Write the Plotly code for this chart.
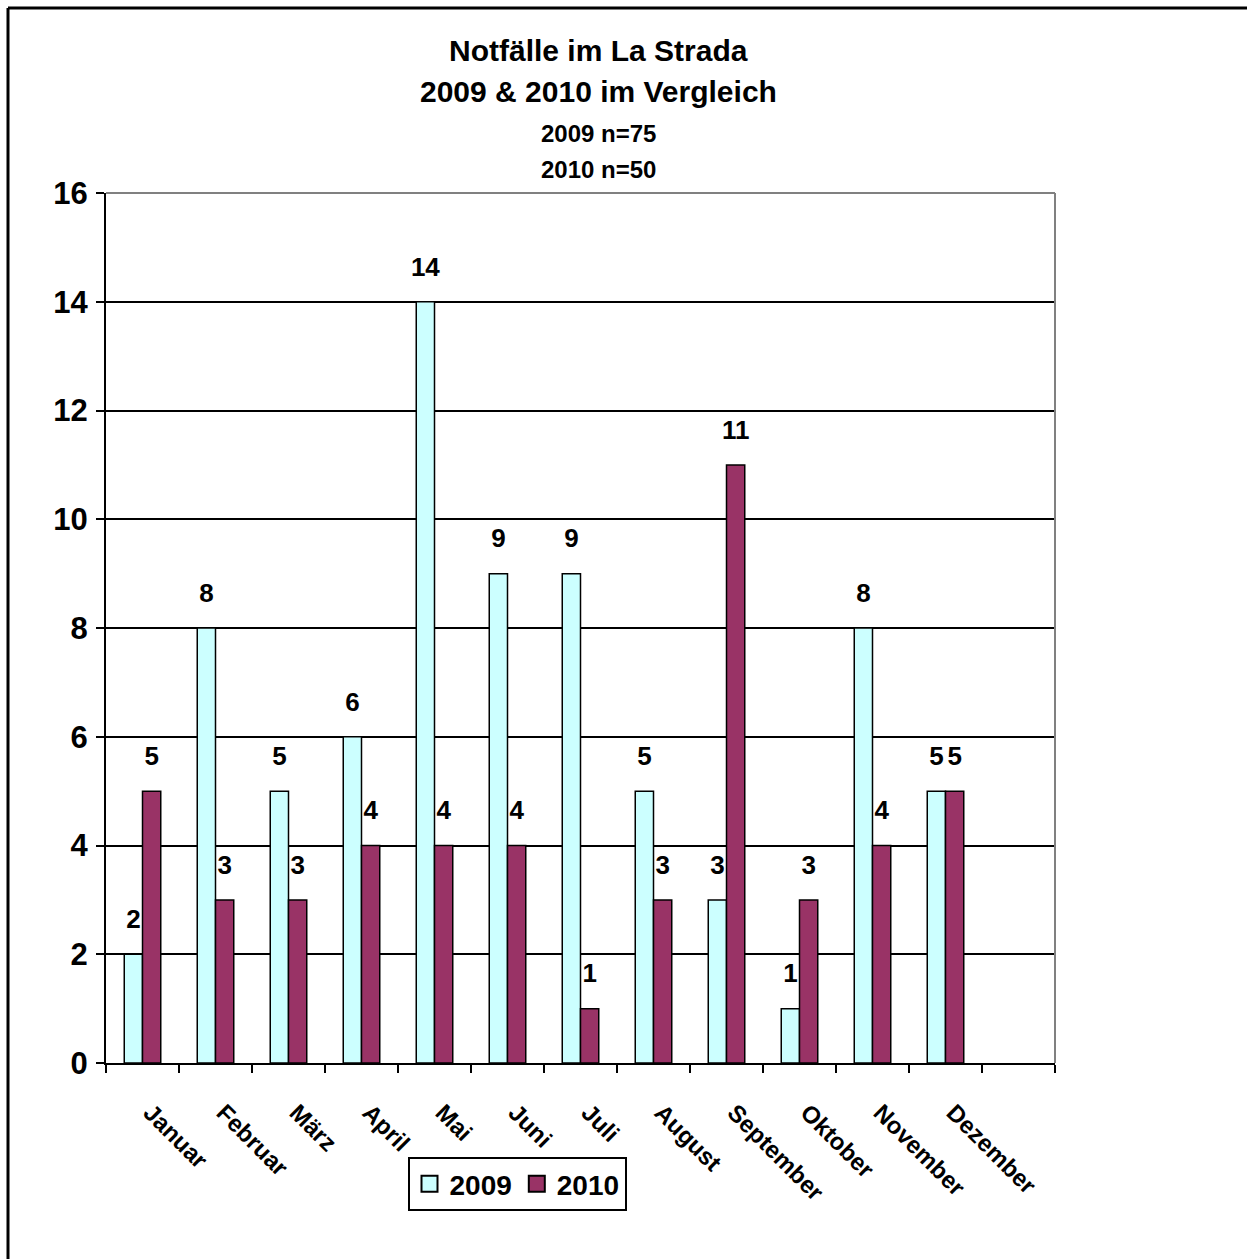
import plotly.graph_objects as go

months = ["Januar", "Februar", "März", "April", "Mai", "Juni", "Juli",
          "August", "September", "Oktober", "November", "Dezember"]
values_2009 = [2, 8, 5, 6, 14, 9, 9, 5, 3, 1, 8, 5]
values_2010 = [5, 3, 3, 4, 4, 4, 1, 3, 11, 3, 4, 5]
y_ticks = [0, 2, 4, 6, 8, 10, 12, 14, 16]
title_lines = ["Notfälle im La Strada", "2009 & 2010 im Vergleich", "2009 n=75", "2010 n=50"]

FONT = "Liberation Sans, Arial, sans-serif"
COL_2009 = "#CCFFFF"
COL_2010 = "#993366"
xpos = list(range(len(months)))

BARGAP = 0.5
bar_w = (1 - BARGAP) / 2

fig = go.Figure()
for name, vals, col, side in [("2009", values_2009, COL_2009, -1), ("2010", values_2010, COL_2010, 1)]:
    fig.add_trace(go.Bar(
        x=xpos, y=vals, name=name, showlegend=False,
        marker=dict(color=col, line=dict(color="black", width=1.5)),
    ))
for name, vals, col, side in [("2009", values_2009, COL_2009, -1), ("2010", values_2010, COL_2010, 1)]:
    # value labels above each bar, aligned with the grouped bar centres
    fig.add_trace(go.Scatter(
        x=[i + side * bar_w / 2 for i in xpos], y=vals, mode="markers+text",
        text=[str(v) for v in vals], textposition="top center", cliponaxis=False,
        marker=dict(size=30, opacity=0), showlegend=False, hoverinfo="skip",
        textfont=dict(family=FONT, size=26, color="black", weight="bold"),
    ))
for name, col in [("2009", COL_2009), ("2010", COL_2010)]:
    # legend-only entries with large square keys
    fig.add_trace(go.Scatter(
        x=[None], y=[None], mode="markers", name=name,
        marker=dict(symbol="square", size=20, color=col, line=dict(color="black", width=2)),
    ))

L, R, T, B = 106, 192, 193, 196
W, H = 1247, 1259
pw, ph = W - L - R, H - T - B

def px_x(px):
    return (px - L) / pw

def px_y(py):
    return (H - B - py) / ph

annotations = []
title_y = [50, 92, 133, 170]
title_size = [30, 30, 24, 24]
for line, yy, sz in zip(title_lines, title_y, title_size):
    annotations.append(dict(
        text=line, xref="paper", yref="paper", x=px_x(598), y=px_y(yy),
        xanchor="center", yanchor="middle", showarrow=False,
        font=dict(family=FONT, size=sz, color="black", weight="bold"),
    ))

fig.update_layout(
    width=W, height=H, autosize=False,
    margin=dict(l=L, r=R, t=T, b=B),
    paper_bgcolor="white", plot_bgcolor="white",
    barmode="group", bargap=BARGAP, bargroupgap=0,
    font=dict(family=FONT, color="black"),
    showlegend=True,
    legend=dict(
        orientation="h", x=px_x(517), y=px_y(1157), xanchor="center", yanchor="top",
        bordercolor="black", borderwidth=2, bgcolor="white",
        font=dict(family=FONT, size=28, color="black", weight="bold"),
        itemsizing="trace", itemwidth=30, tracegroupgap=0,
    ),
    annotations=annotations,
    shapes=[
        dict(type="line", xref="paper", yref="paper",
             x0=px_x(8), x1=px_x(1247), y0=px_y(8), y1=px_y(8),
             line=dict(color="black", width=3)),
        dict(type="line", xref="paper", yref="paper",
             x0=px_x(8), x1=px_x(8), y0=px_y(8), y1=px_y(1259),
             line=dict(color="black", width=3)),
        dict(type="line", xref="paper", yref="paper", x0=0, x1=1, y0=1, y1=1,
             line=dict(color="#808080", width=2)),
        dict(type="line", xref="paper", yref="paper", x0=1, x1=1, y0=0, y1=1,
             line=dict(color="#808080", width=2)),
    ],
)

fig.update_xaxes(
    range=[-0.5, 12.5], tickmode="array", tickvals=xpos, ticktext=months,
    tickangle=45, ticks="", showgrid=False, zeroline=False,
    showline=True, linecolor="black", linewidth=2,
    tickfont=dict(family=FONT, size=24, color="black", weight="bold"),
    ticklabelstandoff=24, ticklabelshift=8,
    minor=dict(tickmode="array", tickvals=[i - 0.5 for i in range(14)],
               ticks="outside", ticklen=8, tickwidth=1.5, tickcolor="black", showgrid=False),
)
fig.update_yaxes(
    range=[0, 16], tickmode="array", tickvals=y_ticks,
    ticks="outside", ticklen=8, tickwidth=1.5, tickcolor="black",
    showgrid=True, gridcolor="black", gridwidth=1.5,
    zeroline=False, showline=True, linecolor="black", linewidth=2,
    tickfont=dict(family=FONT, size=31, color="black", weight="bold"),
    ticklabelstandoff=2,
)

fig.write_html("out.html")
